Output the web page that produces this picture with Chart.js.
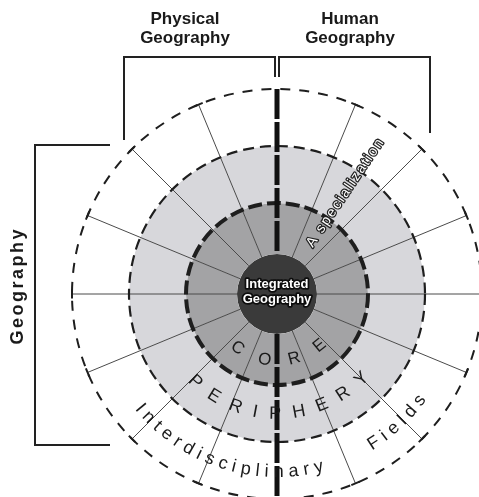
<!DOCTYPE html>
<html>
<head>
<meta charset="utf-8">
<script src="https://cdn.jsdelivr.net/npm/chart.js@4.4.1/dist/chart.umd.min.js"></script>
<style>
  html, body { margin: 0; padding: 0; background: #fff; }
  #wrap { width: 479px; height: 497px; position: relative; }
</style>
</head>
<body>
<div id="wrap"><canvas id="geoChart"></canvas></div>
<script>
// sixteen equal sub-fields around the circle
const sectors = [1, 1, 1, 1, 1, 1, 1, 1, 1, 1, 1, 1, 1, 1, 1, 1];
// rings from the outside in, with their relative thickness
const rings = ["Interdisciplinary Fields", "Periphery", "Core", "Integrated Geography"];
const ringWeights = [57, 57, 51, 40];
const ringColors = ["#ffffff", "#d7d7db", "#a3a3a5", "#3a3a3a"];
const topLabels = [["Physical", "Geography"], ["Human", "Geography"]];
const sideLabel = "Geography";
const centerLabel = ["Integrated", "Geography"];
const specialization = "A specialization";

const FONT = '"Liberation Sans", Arial, sans-serif';

// writes letters along a circle under the centre, tops towards the middle
function arcText(ctx, text, cx, cy, r, midDeg, gap, font) {
  ctx.font = font;
  const chars = [...text];
  const widths = chars.map(ch => ctx.measureText(ch).width);
  const total = widths.reduce((a, b) => a + b, 0) + gap * (chars.length - 1);
  let theta = Math.PI / 2 - midDeg * Math.PI / 180 + total / 2 / r;
  chars.forEach((ch, i) => {
    const half = widths[i] / 2;
    theta -= half / r;
    ctx.save();
    ctx.translate(cx + r * Math.cos(theta), cy + r * Math.sin(theta));
    ctx.rotate(theta - Math.PI / 2);
    ctx.fillText(ch, 0, 0);
    ctx.restore();
    theta -= (half + gap) / r;
  });
}

function spacedText(ctx, text, x, y, gap) {
  const chars = [...text];
  const widths = chars.map(ch => ctx.measureText(ch).width);
  const total = widths.reduce((a, b) => a + b, 0) + gap * (chars.length - 1);
  let pos = x - total / 2;
  chars.forEach((ch, i) => {
    ctx.fillText(ch, pos + widths[i] / 2, y);
    pos += widths[i] + gap;
  });
}

function circle(ctx, cx, cy, r, width, dash) {
  ctx.beginPath();
  ctx.lineWidth = width;
  ctx.setLineDash(dash);
  ctx.arc(cx, cy, r, 0, Math.PI * 2);
  ctx.stroke();
}

const diagram = {
  id: "diagram",
  afterDatasetsDraw(chart) {
    const ctx = chart.ctx;
    const arcs = chart.getDatasetMeta(0).data;
    const cx = arcs[0].x, cy = arcs[0].y;
    const R = arcs[0].outerRadius;
    const rPeriph = chart.getDatasetMeta(1).data[0].outerRadius;
    const rCore = chart.getDatasetMeta(2).data[0].outerRadius;
    const rInner = chart.getDatasetMeta(3).data[0].outerRadius;

    ctx.save();
    ctx.strokeStyle = "#1e1e1e";
    ctx.fillStyle = "#1e1e1e";

    // spokes between the sectors
    ctx.setLineDash([]);
    arcs.forEach(arc => {
      const a = arc.startAngle;
      if (Math.abs(Math.cos(a)) < 0.01) return; // the vertical divide is drawn thick
      const c = Math.cos(a), s = Math.sin(a);
      ctx.strokeStyle = "#4a4a4a";
      ctx.lineWidth = 1;
      ctx.beginPath();
      ctx.moveTo(cx + rInner * c, cy + rInner * s);
      ctx.lineTo(cx + R * c, cy + R * s);
      ctx.stroke();
      ctx.strokeStyle = "#1e1e1e";
      ctx.lineWidth = 2;
      ctx.beginPath();
      ctx.moveTo(cx + R * c - 4.5 * s, cy + R * s + 4.5 * c);
      ctx.lineTo(cx + R * c + 4.5 * s, cy + R * s - 4.5 * c);
      ctx.stroke();
    });

    ctx.strokeStyle = "#1e1e1e";
    circle(ctx, cx, cy, R, 2, [10, 9]);
    circle(ctx, cx, cy, rPeriph, 2.2, [11, 6]);
    circle(ctx, cx, cy, rCore, 4, [14, 5]);

    // thick divide between physical and human geography
    ctx.strokeStyle = "#111";
    ctx.lineWidth = 5;
    ctx.setLineDash([30, 3]);
    ctx.beginPath();
    ctx.moveTo(cx, cy - R);
    ctx.lineTo(cx, cy - rInner);
    ctx.moveTo(cx, cy + rInner);
    ctx.lineTo(cx, cy + R);
    ctx.stroke();

    // brackets
    ctx.setLineDash([]);
    ctx.lineWidth = 2;
    ctx.strokeStyle = "#222";
    ctx.beginPath();
    ctx.moveTo(cx - 153, cy - 154);
    ctx.lineTo(cx - 153, cy - 237);
    ctx.lineTo(cx - 2, cy - 237);
    ctx.lineTo(cx - 2, cy - 217);
    ctx.moveTo(cx + 2, cy - 217);
    ctx.lineTo(cx + 2, cy - 237);
    ctx.lineTo(cx + 153, cy - 237);
    ctx.lineTo(cx + 153, cy - 161);
    ctx.moveTo(cx - 167, cy - 149);
    ctx.lineTo(cx - 242, cy - 149);
    ctx.lineTo(cx - 242, cy + 151);
    ctx.lineTo(cx - 167, cy + 151);
    ctx.stroke();

    // bracket labels
    ctx.fillStyle = "#1a1a1a";
    ctx.textAlign = "center";
    ctx.textBaseline = "middle";
    ctx.font = "bold 17px " + FONT;
    const labelX = [cx - 92, cx + 73];
    topLabels.forEach((lines, i) => {
      lines.forEach((line, j) => ctx.fillText(line, labelX[i], 19 + j * 19));
    });
    ctx.save();
    ctx.translate(cx - 259, cy - 7);
    ctx.rotate(-Math.PI / 2);
    ctx.font = "bold 18px " + FONT;
    spacedText(ctx, sideLabel, 0, 0, 2.5);
    ctx.restore();

    // curved ring names
    ctx.fillStyle = "#1a1a1a";
    arcText(ctx, "CORE", cx, cy, 67, 1.5, 17, "17px " + FONT);
    arcText(ctx, "PERIPHERY", cx, cy, 120, 1, 11.5, "18px " + FONT);
    arcText(ctx, "Interdisciplinary", cx, cy, 178, -18, 5, "18px " + FONT);
    arcText(ctx, "Fields", cx, cy, 178, 43, 5, "18px " + FONT);

    // radial label in the periphery
    ctx.save();
    ctx.translate(cx, cy);
    ctx.rotate(-56 * Math.PI / 180);
    ctx.font = "14px " + FONT;
    ctx.textAlign = "left";
    ctx.lineJoin = "round";
    let x = 58;
    [...specialization].forEach(ch => {
      ctx.lineWidth = 2.5;
      ctx.strokeStyle = "#222";
      ctx.strokeText(ch, x, 0);
      ctx.fillStyle = "#fff";
      ctx.fillText(ch, x, 0);
      x += ctx.measureText(ch).width + 2;
    });
    ctx.restore();

    // centre label
    ctx.font = "bold 13px " + FONT;
    ctx.textAlign = "center";
    ctx.lineJoin = "round";
    centerLabel.forEach((line, j) => {
      const y = cy - 10 + j * 15;
      ctx.lineWidth = 3.5;
      ctx.strokeStyle = "#0d0d0d";
      ctx.strokeText(line, cx, y);
      ctx.fillStyle = "#fff";
      ctx.fillText(line, cx, y);
    });

    ctx.restore();
  }
};

new Chart(document.getElementById("geoChart"), {
  type: "doughnut",
  data: {
    datasets: rings.map((name, i) => ({
      label: name,
      data: i === rings.length - 1 ? [1] : sectors,
      weight: ringWeights[i],
      backgroundColor: ringColors[i],
      borderWidth: 0,
      hoverBorderWidth: 0,
      hoverOffset: 0
    }))
  },
  options: {
    responsive: true,
    maintainAspectRatio: false,
    animation: false,
    cutout: 0,
    radius: 205,
    layout: { padding: { left: 75, top: 91, right: 0, bottom: 0 } },
    plugins: {
      legend: { display: false },
      tooltip: { enabled: false }
    }
  },
  plugins: [diagram]
});
</script>
</body>
</html>
